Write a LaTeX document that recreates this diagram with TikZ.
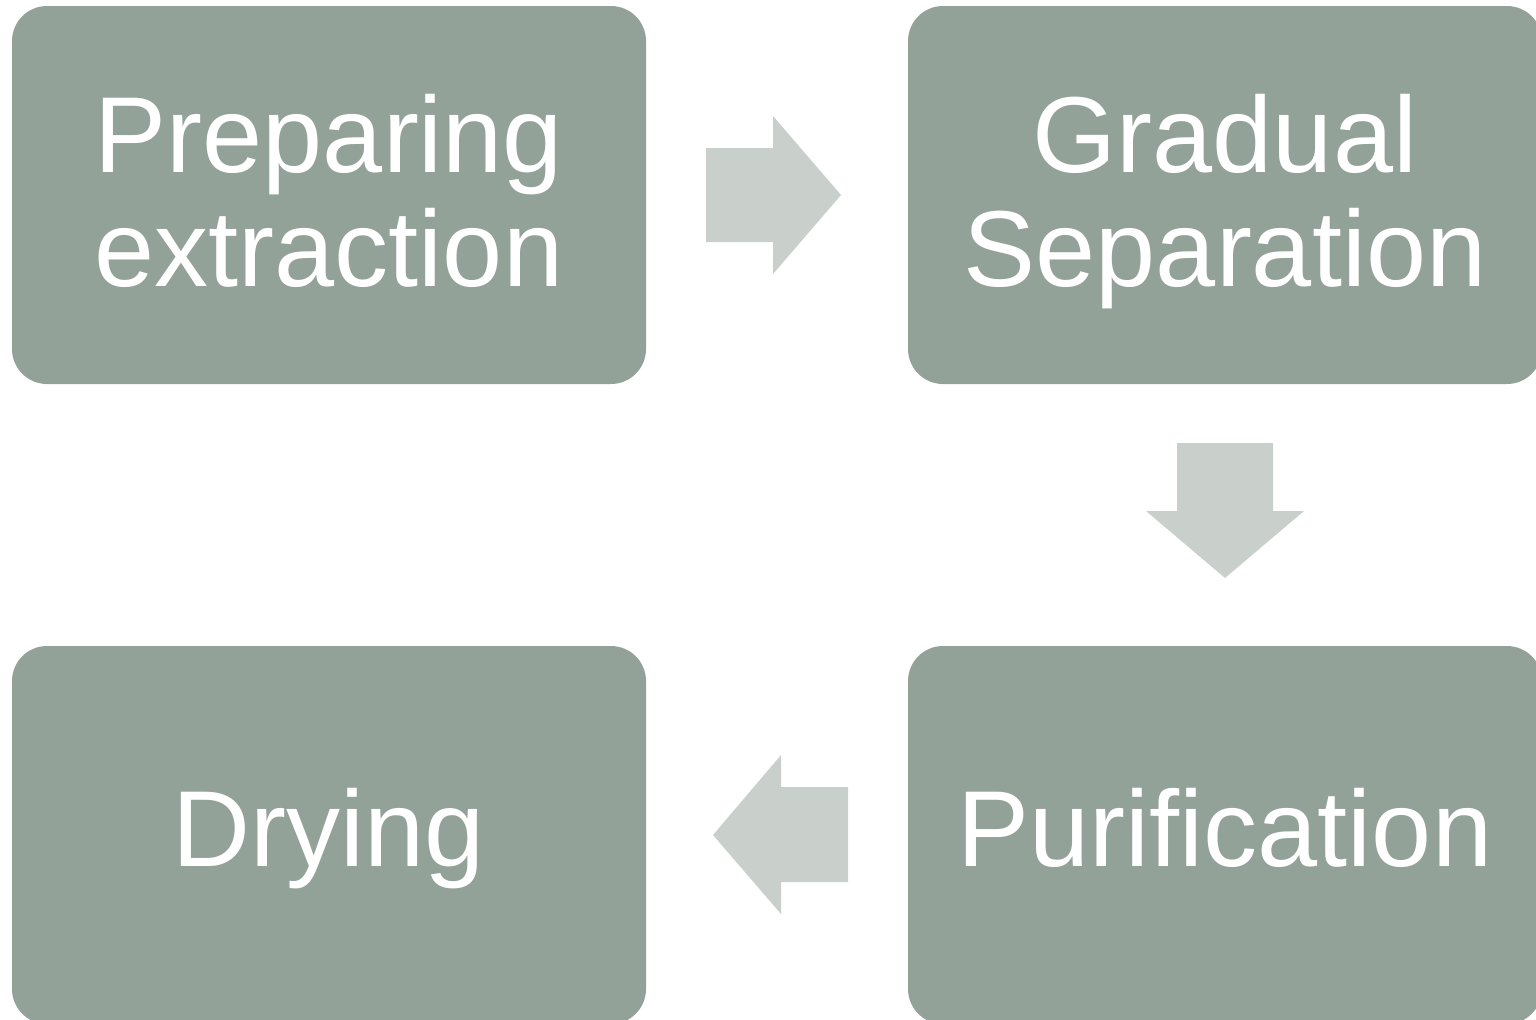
\documentclass[tikz,border=0pt]{standalone}
\usepackage{fontspec}
\setmainfont{Liberation Sans}
\usetikzlibrary{positioning}
\definecolor{stepgreen}{HTML}{93A299}
\definecolor{arrowgrey}{HTML}{C9CFCB}
\tikzset{
  stepbox/.style={fill=stepgreen, rounded corners=17.5pt, minimum width=317pt, minimum height=189pt, inner sep=0pt},
  steptext/.style={text=white, align=center, inner sep=0pt, font=\fontsize{54}{57}\selectfont},
  blockarrow/.style={fill=arrowgrey}
}
\begin{document}
\begin{tikzpicture}[x=0.5pt,y=-0.5pt]
\useasboundingbox (0,0) rectangle (1536,1019);
\node[stepbox] (prep) at (329,195) {};
\node[stepbox] (sep) at (1225,195) {};
\node[stepbox] (pur) at (1225,835) {};
\node[stepbox] (dry) at (329,835) {};
\node[steptext] (prep-t) at ([yshift=-3.25pt]prep.center) {Preparing\\extraction\vphantom{g}};
\node[steptext] (sep-t) at ([yshift=-3.25pt]sep.center) {Gradual\\Separation\vphantom{g}};
\node[steptext] (pur-t) at ([yshift=-1.75pt]pur.center) {Purification\vphantom{g}};
\node[steptext] (dry-t) at ([yshift=-1.75pt]dry.center) {Drying\vphantom{g}};

% block arrows between the steps
\fill[blockarrow] (706,148) -- (773,148) -- (773,116) -- (841,195) -- (773,274) -- (773,242) -- (706,242) -- cycle;
\fill[blockarrow] (1177,443) -- (1273,443) -- (1273,511) -- (1304,511) -- (1225,578) -- (1146,511) -- (1177,511) -- cycle;
\fill[blockarrow] (848,787) -- (781,787) -- (781,755) -- (713,835) -- (781,914) -- (781,882) -- (848,882) -- cycle;
\end{tikzpicture}
\end{document}
